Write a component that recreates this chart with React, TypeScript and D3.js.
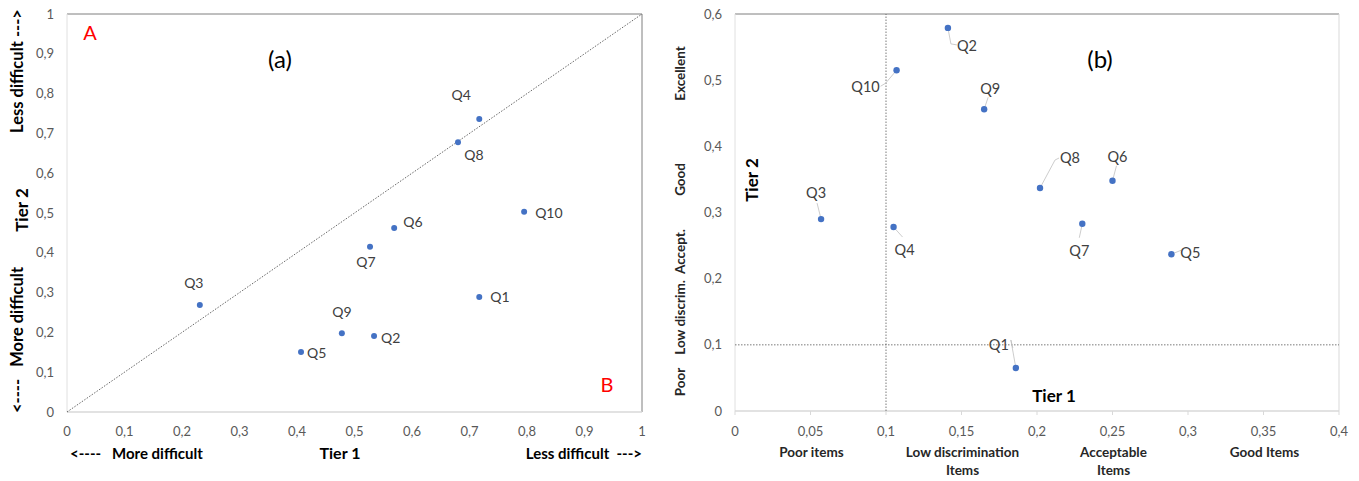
import * as d3 from 'd3'

// Item ids
const questions = ['Q1', 'Q2', 'Q3', 'Q4', 'Q5', 'Q6', 'Q7', 'Q8', 'Q9', 'Q10']

// (a) difficulty, tier 1 vs tier 2
const difficultyTier1 = [0.717, 0.534, 0.231, 0.717, 0.407, 0.569, 0.527, 0.68, 0.478, 0.795]
const difficultyTier2 = [0.289, 0.191, 0.269, 0.736, 0.151, 0.462, 0.415, 0.678, 0.198, 0.503]

// (b) discrimination, tier 1 vs tier 2
const discrimTier1 = [0.186, 0.141, 0.057, 0.105, 0.289, 0.25, 0.23, 0.202, 0.165, 0.107]
const discrimTier2 = [0.065, 0.579, 0.29, 0.278, 0.237, 0.348, 0.283, 0.337, 0.456, 0.515]

const ticksA = [0, 0.1, 0.2, 0.3, 0.4, 0.5, 0.6, 0.7, 0.8, 0.9, 1]
const ticksBx = [0, 0.05, 0.1, 0.15, 0.2, 0.25, 0.3, 0.35, 0.4]
const ticksBy = [0, 0.1, 0.2, 0.3, 0.4, 0.5, 0.6]
const thresholdB = 0.1

const xCategoriesB = [
  { value: 0.05, lines: ['Poor items'] },
  { value: 0.15, lines: ['Low discrimination', 'Items'] },
  { value: 0.25, lines: ['Acceptable', 'Items'] },
  { value: 0.35, lines: ['Good Items'] },
]
const yCategoriesB = [
  { value: 0.51, text: 'Excellent' },
  { value: 0.35, text: 'Good' },
  { value: 0.18, text: 'Low discrim.  Accept.' },
  { value: 0.044, text: 'Poor' },
]

// label placement (pixels, relative to the point)
const labelOffsetA: [number, number, string][] = [
  [11, 5, 'start'], [7, 7, 'start'], [-6, -17, 'middle'], [-18, -19, 'middle'], [6, 6, 'start'],
  [9, -1, 'start'], [-4, 20, 'middle'], [16, 18, 'middle'], [0, -16, 'middle'], [11, 6, 'start'],
]
const labelOffsetB: { label: [number, number]; leader: [number, number][] }[] = [
  { label: [-17, -23], leader: [[-5, -28], [-3, -20]] },
  { label: [19, 18], leader: [[3, 16], [9, 17]] },
  { label: [-5, -26], leader: [[-4, -16]] },
  { label: [11, 23], leader: [[9, 10]] },
  { label: [19, -1], leader: [[10, -4]] },
  { label: [5, -24], leader: [[4, -15]] },
  { label: [-3, 27], leader: [[-3, 14]] },
  { label: [30, -30], leader: [[15, -28], [19, -30]] },
  { label: [6, -20], leader: [[4, -12]] },
  { label: [-31, 17], leader: [[-11, 13], [-16, 16]] },
]

const FONT = 'Lato, "Open Sans", sans-serif'
const TICK_COLOR = '#595959'
const LABEL_COLOR = '#404040'
const DOT = '#4472C4'
const fmt = (v: number) => String(v).replace('.', ',')

function PanelA() {
  const x = d3.scaleLinear().domain([0, 1]).range([67, 642])
  const y = d3.scaleLinear().domain([0, 1]).range([412, 14])
  return (
    <g fontFamily={FONT}>
      {/* axes / frame */}
      <line x1={x(0)} x2={x(1)} y1={y(1)} y2={y(1)} stroke="#7f7f7f" />
      <line x1={x(1)} x2={x(1)} y1={y(0)} y2={y(1)} stroke="#7f7f7f" />
      <line x1={x(0)} x2={x(0)} y1={y(0)} y2={y(1)} stroke="#e0e0e0" />
      <line x1={x(0)} x2={x(1)} y1={y(0)} y2={y(0)} stroke="#d9d9d9" strokeWidth={1.5} />
      <line x1={x(0)} y1={y(0)} x2={x(1)} y2={y(1)} stroke="#404040" strokeWidth={0.8} strokeDasharray="1.5,1.5" />
      {ticksA.map((t) => (
        <text key={'yt' + t} x={x(0) - 13} y={y(t) + 4.5} textAnchor="end" fontSize={13} fill={TICK_COLOR}>
          {fmt(t)}
        </text>
      ))}
      {ticksA.map((t) => (
        <text key={'xt' + t} x={x(t)} y={436} textAnchor="middle" fontSize={13} fill={TICK_COLOR}>
          {fmt(t)}
        </text>
      ))}
      {questions.map((q, i) => {
        const px = x(difficultyTier1[i])
        const py = y(difficultyTier2[i])
        const [dx, dy, anchor] = labelOffsetA[i]
        return (
          <g key={q}>
            <circle cx={px} cy={py} r={3} fill={DOT} />
            <text x={px + dx} y={py + dy} textAnchor={anchor} fontSize={14} fill={LABEL_COLOR}>
              {q}
            </text>
          </g>
        )
      })}
      <text x={90} y={40} textAnchor="middle" fontSize={20} fill="#ff0000">A</text>
      <text x={607} y={392} textAnchor="middle" fontSize={20} fill="#ff0000">B</text>
      <text x={280} y={68} textAnchor="middle" fontSize={24} fill="#000">(a)</text>
      {/* axis titles */}
      <text x={70} y={459} fontSize={15} fontWeight="bold" fill="#000" xmlSpace="preserve">{'<----   More difficult'}</text>
      <text x={340} y={459} textAnchor="middle" fontSize={16} fontWeight="bold" fill="#000">Tier 1</text>
      <text x={642} y={459} textAnchor="end" fontSize={15} fontWeight="bold" fill="#000" xmlSpace="preserve">{'Less difficult  --->'}</text>
      <text transform="translate(23,71) rotate(-90)" textAnchor="middle" fontSize={16.5} fontWeight="bold" fill="#000">{'Less difficult --->'}</text>
      <text transform="translate(28,210) rotate(-90)" textAnchor="middle" fontSize={17} fontWeight="bold" fill="#000">Tier 2</text>
      <text transform="translate(23,340) rotate(-90)" textAnchor="middle" fontSize={16.5} fontWeight="bold" fill="#000" xmlSpace="preserve">{'<----   More difficult'}</text>
    </g>
  )
}

function PanelB() {
  const x = d3.scaleLinear().domain([0, 0.4]).range([735, 1339])
  const y = d3.scaleLinear().domain([0, 0.6]).range([411, 14])
  return (
    <g fontFamily={FONT}>
      <line x1={x(0)} x2={x(0.4)} y1={y(0.6)} y2={y(0.6)} stroke="#7f7f7f" />
      <line x1={x(0.4)} x2={x(0.4)} y1={y(0)} y2={y(0.6)} stroke="#d9d9d9" />
      <line x1={x(0)} x2={x(0)} y1={y(0)} y2={y(0.6)} stroke="#e0e0e0" />
      <line x1={x(0)} x2={x(0.4)} y1={y(0)} y2={y(0)} stroke="#d9d9d9" strokeWidth={1.5} />
      {ticksBx.map((t) => (
        <line key={'tk' + t} x1={x(t)} x2={x(t)} y1={y(0)} y2={y(0) + 4} stroke="#d9d9d9" />
      ))}
      <line x1={x(thresholdB)} x2={x(thresholdB)} y1={y(0)} y2={y(0.6)} stroke="#595959" strokeWidth={0.8} strokeDasharray="1.5,1.5" />
      <line x1={x(0)} x2={x(0.4)} y1={y(thresholdB)} y2={y(thresholdB)} stroke="#595959" strokeWidth={0.8} strokeDasharray="1.5,1.5" />
      {ticksBy.map((t) => (
        <text key={'yt' + t} x={x(0) - 13} y={y(t) + 4.5} textAnchor="end" fontSize={13} fill={TICK_COLOR}>
          {fmt(t)}
        </text>
      ))}
      {ticksBx.map((t) => (
        <text key={'xt' + t} x={x(t)} y={436} textAnchor="middle" fontSize={13} fill={TICK_COLOR}>
          {fmt(t)}
        </text>
      ))}
      {questions.map((q, i) => {
        const px = x(discrimTier1[i])
        const py = y(discrimTier2[i])
        const off = labelOffsetB[i]
        const pts: [number, number][] = [[px, py], ...off.leader.map(([dx, dy]) => [px + dx, py + dy] as [number, number])]
        return (
          <g key={q}>
            <path d={d3.line()(pts) || ''} fill="none" stroke="#bfbfbf" strokeWidth={0.8} />
            <circle cx={px} cy={py} r={3.2} fill={DOT} />
            <text x={px + off.label[0]} y={py + off.label[1] + 5} textAnchor="middle" fontSize={14.5} fill={LABEL_COLOR}>
              {q}
            </text>
          </g>
        )
      })}
      <text x={1100} y={68} textAnchor="middle" fontSize={24} fill="#000">(b)</text>
      <text x={1054} y={402} textAnchor="middle" fontSize={17} fontWeight="bold" fill="#000">Tier 1</text>
      <text transform="translate(758,180) rotate(-90)" textAnchor="middle" fontSize={17} fontWeight="bold" fill="#000">Tier 2</text>
      {xCategoriesB.map((c) => (
        <text key={c.lines[0]} x={x(c.value) + 1} textAnchor="middle" fontSize={13.5} fontWeight="bold" fill="#262626">
          {c.lines.map((l, k) => (
            <tspan key={k} x={x(c.value) + 1} y={457 + k * 18}>{l}</tspan>
          ))}
        </text>
      ))}
      {yCategoriesB.map((c) => (
        <text key={c.text} transform={`translate(685,${y(c.value)}) rotate(-90)`} textAnchor="middle" fontSize={13.5} fontWeight="bold" fill="#262626" xmlSpace="preserve">
          {c.text}
        </text>
      ))}
    </g>
  )
}

export default function App() {
  return (
    <svg width={1359} height={481} style={{ position: 'absolute', left: 0, top: 0, background: '#fff' }}>
      <rect width={1359} height={481} fill="#fff" />
      <PanelA />
      <PanelB />
    </svg>
  )
}
